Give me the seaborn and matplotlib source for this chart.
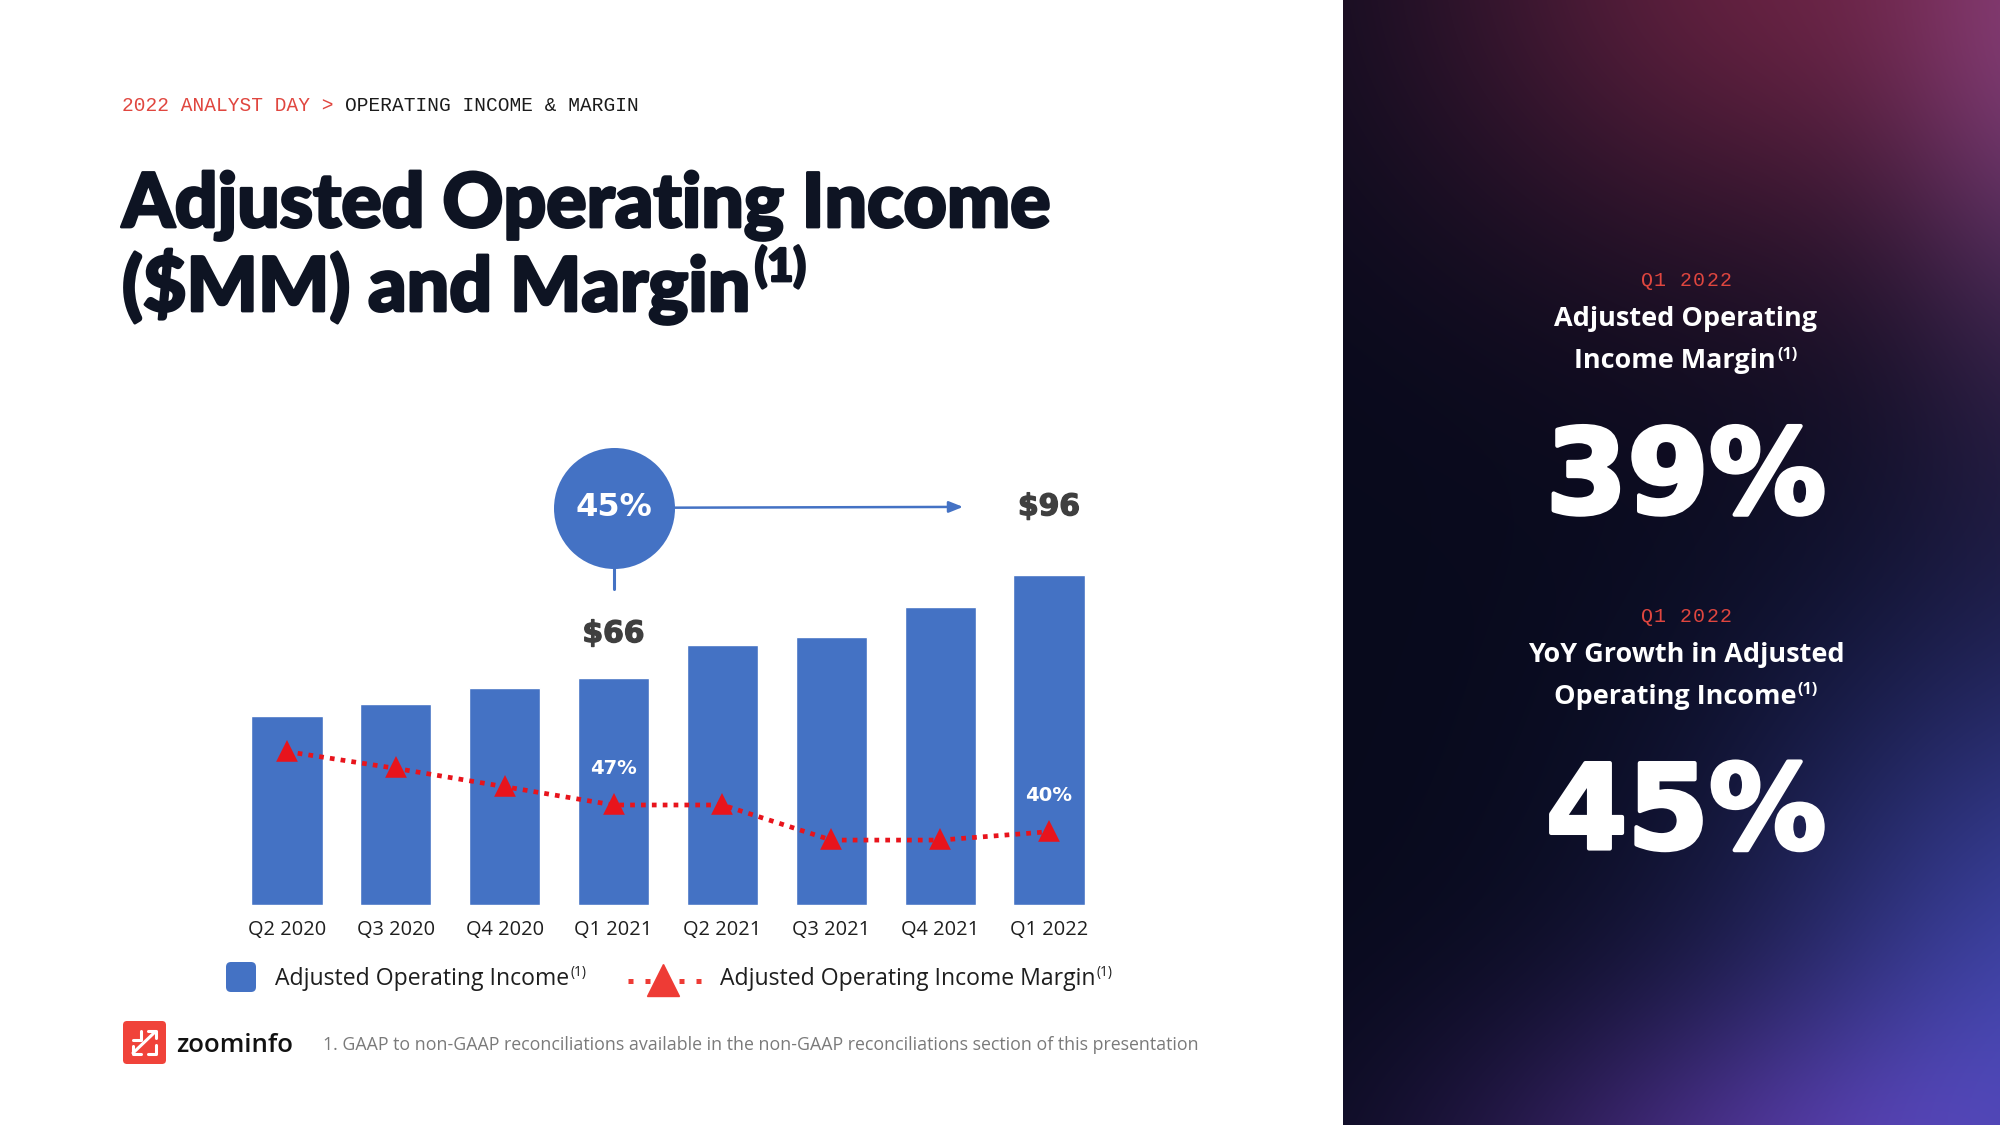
import numpy as np
import pandas as pd
import matplotlib
matplotlib.use("Agg")
import matplotlib.pyplot as plt
import matplotlib.patheffects as pe
import seaborn as sns
from matplotlib.patches import FancyBboxPatch
from matplotlib.lines import Line2D

# ---------------- data ----------------
quarters = ["Q2 2020", "Q3 2020", "Q4 2020", "Q1 2021",
            "Q2 2021", "Q3 2021", "Q4 2021", "Q1 2022"]
income_mm = [55.0, 58.5, 63.0, 66.0, 75.5, 78.0, 86.5, 96.0]
margin_pct = [61.0, 56.6, 51.8, 47.0, 47.0, 37.8, 37.8, 40.0]
income_labels = {"Q1 2021": "$66", "Q1 2022": "$96"}
margin_labels = {"Q1 2021": "47%", "Q1 2022": "40%"}
growth_callout = "45%"
kpi_margin = "39%"
kpi_growth = "45%"

W, H = 2000, 1125
BLUE = "#4472C4"
RED = "#E8141C"
NAVY = "#0E1423"

sns.set_theme(style="white")
plt.rcParams['font.family'] = ['Open Sans', 'DejaVu Sans']

fig = plt.figure(figsize=(20, 11.25), dpi=100)
fig.patch.set_facecolor("white")
renderer = fig.canvas.get_renderer()


def px_axes(l, t, w, h):
    return fig.add_axes([l / W, 1 - (t + h) / H, w / W, h / H])


# ---------------- right gradient panel ----------------
PX = 1343
bg = px_axes(PX, 0, W - PX, H)
yy, xx = np.mgrid[0:H, PX:W].astype(float)
img = np.zeros((H, W - PX, 3)) + np.array([8, 10, 28]) / 255.0


def blob(cx, cy, sx, sy, col):
    g = np.exp(-(((xx - cx) / sx) ** 2 + ((yy - cy) / sy) ** 2) / 2)
    return g[..., None] * np.array(col)[None, None, :]


img += blob(1800, -40, 260, 210, (0.36, 0.09, 0.14))
img += blob(2070, 60, 120, 260, (0.25, 0.14, 0.26))
img += blob(2090, 1000, 240, 270, (0.20, 0.22, 0.52))
img += blob(1770, 1190, 230, 130, (0.22, 0.10, 0.32))
img = np.clip(img, 0, 1)
bg.imshow(img, aspect="auto", interpolation="bilinear")
bg.axis("off")

# ---------------- main chart ----------------
ax = px_axes(232.5, 440, 871, 465)
df = pd.DataFrame({"quarter": quarters, "income": income_mm, "margin": margin_pct})
sns.barplot(data=df, x="quarter", y="income", ax=ax, color=BLUE,
            saturation=1, width=0.655, zorder=2)
ax.set_xlim(-0.5, 7.5)
ax.set_ylim(0, 135.2)
ax.set_yticks([])
ax.set_xlabel("")
ax.set_ylabel("")
for sp in ax.spines.values():
    sp.set_visible(False)
ax.patch.set_alpha(0)

ax2 = ax.twinx()
sns.pointplot(data=df, x="quarter", y="margin", ax=ax2, color=RED,
              markers="^", linestyles=":", errorbar=None,
              markersize=12, linewidth=3.4)
for ln in ax2.lines:
    ln.set_linestyle((0, (1, 1.3)))
    ln.set_dash_capstyle("butt")
ax2.set_ylim(20.78, 142.7)
ax2.set_xlim(-0.5, 7.5)
ax2.set_yticks([])
ax2.set_ylabel("")
ax2.set_xlabel("")
for sp in ax2.spines.values():
    sp.set_visible(False)


def size_for(s, width, **kw):
    t = fig.text(0, 0, s, fontsize=20, **kw)
    w = t.get_window_extent(renderer).width
    t.remove()
    return 20 * width / w


tick_size = size_for("Q2 2020", 78, family=["Open Sans", "DejaVu Sans"])
ax.set_xticks(range(len(quarters)))
ax.set_xticklabels(quarters)
ax.tick_params(axis="x", length=0, pad=10.5, labelsize=tick_size,
               labelcolor="#1e1e1e", bottom=True)
ax2.tick_params(axis="both", length=0, labelbottom=False, labelright=False)

# value labels
dollar_kw = dict(family=["DejaVu Sans"], fontweight="bold", ha="center", va="center")
lab_size = size_for("$66", 62, family=["DejaVu Sans"], fontweight="bold")
offsets = {"Q1 2021": 12.9, "Q1 2022": 19.8}
for q, lab in income_labels.items():
    i = quarters.index(q)
    ax.text(i, income_mm[i] + offsets[q], lab, color="#3f3f3f",
            fontsize=lab_size, clip_on=False,
            path_effects=[pe.withStroke(linewidth=1.0, foreground="#3f3f3f")],
            **dollar_kw)

m_size = size_for("47%", 47, family=["DejaVu Sans"], fontweight="bold")
for q, lab in margin_labels.items():
    i = quarters.index(q)
    ax2.text(i, margin_pct[i] + 9.6, lab, color="white", fontsize=m_size,
             zorder=5, **dollar_kw)

# growth callout: circle, arrow, stub
qi = quarters.index("Q1 2021")
qj = quarters.index("Q1 2022")
cy = 115.5
ax.annotate("", xy=(qj - 0.79, cy + 0.25), xytext=(qi + 0.3, cy),
            arrowprops=dict(arrowstyle="-|>,head_length=0.7,head_width=0.28",
                            color=BLUE, lw=1.8, shrinkA=0, shrinkB=0),
            annotation_clip=False, zorder=3)
ax.plot([qi, qi], [91.9, 98.5], color=BLUE, lw=2.2, clip_on=False, zorder=3)
ax.scatter([qi], [cy], s=(121 * 0.72) ** 2, color=BLUE, zorder=4,
           clip_on=False, linewidths=0)
c_size = size_for(growth_callout, 77, family=["DejaVu Sans"], fontweight="bold")
ax.text(qi, cy, growth_callout, color="white", fontsize=c_size, zorder=6,
        clip_on=False, **dollar_kw)

# ---------------- overlay for slide decorations ----------------
ov = fig.add_axes([0, 0, 1, 1])
ov.set_xlim(0, W)
ov.set_ylim(H, 0)
ov.axis("off")
ov.patch.set_alpha(0)


def width_of(t):
    return t.get_window_extent(renderer).width


def with_sup(x, base, main, sup, size, sup_size, rise, color, align="left",
             gap=1.5, sup_color=None, **kw):
    t = ov.text(0, base, main, fontsize=size, ha="left", va="baseline",
                color=color, **kw)
    s = ov.text(0, base - rise, sup, fontsize=sup_size, ha="left",
                va="baseline", color=sup_color or color, **kw)
    wm, ws = width_of(t), width_of(s)
    x0 = x if align == "left" else x - (wm + gap + ws) / 2
    t.set_x(x0)
    s.set_x(x0 + wm + gap)
    return t, s


# header breadcrumb
mono = ["Liberation Mono", "DejaVu Sans Mono"]
hs = size_for("2022 ANALYST DAY > OPERATING INCOME & MARGIN", 514, family=mono)
h1 = ov.text(122, 111, "2022 ANALYST DAY >", family=mono, fontsize=hs,
             color="#E0463F", va="baseline")
ov.text(122 + width_of(h1) + width_of(h1) / 18, 111, "OPERATING INCOME & MARGIN",
        family=mono, fontsize=hs, color="#1b1b1b", va="baseline")

# title
title_font = ["Lato", "Roboto", "DejaVu Sans"]
heavy = [pe.withStroke(linewidth=2.0, foreground=NAVY)]
ts = size_for("Adjusted Operating Income", 930, family=title_font, fontweight="black")
ov.text(122, 227, "Adjusted Operating Income", family=title_font,
        fontweight="black", fontsize=ts, color=NAVY, va="baseline",
        path_effects=heavy)
with_sup(122, 311, "($MM) and Margin", "(1)", ts, ts * 0.6, 30, NAVY,
         gap=4, family=title_font, fontweight="black", path_effects=heavy)

# legend
lg_size = size_for("Adjusted Operating Income", 293, family=["Open Sans", "DejaVu Sans"])
ov.add_patch(FancyBboxPatch((226, 962), 30, 30,
                            boxstyle="round,pad=0,rounding_size=5",
                            fc=BLUE, ec="none"))
with_sup(275, 985, "Adjusted Operating Income", "(1)", lg_size, lg_size * 0.6,
         9, "#1e1e1e")
ov.add_line(Line2D([628, 702], [980.5, 980.5], color="#EE3B35", lw=3.6,
                   linestyle=(0, (1, 2.4)), dash_capstyle="butt"))
ov.plot([662.5], [980], marker="^", markersize=23, color="#EE3B35",
        linestyle="none")
with_sup(719.5, 985, "Adjusted Operating Income Margin", "(1)", lg_size,
         lg_size * 0.6, 9, "#1e1e1e")

# footer logo + footnote
ov.add_patch(FancyBboxPatch((123, 1021), 43, 43,
                            boxstyle="round,pad=0,rounding_size=4",
                            fc="#F0433A", ec="none"))
ov.add_line(Line2D([133, 141, 141], [1040, 1040, 1031], color="white", lw=2.2))
ov.add_line(Line2D([148, 156, 156], [1031, 1031, 1038], color="white", lw=2.2))
ov.add_line(Line2D([155, 133], [1032, 1053], color="white", lw=2.2))
ov.add_line(Line2D([133, 133, 141], [1046, 1054, 1054], color="white", lw=2.2))
ov.add_line(Line2D([148, 156, 156], [1054, 1054, 1045], color="white", lw=2.2))
zs = size_for("zoominfo", 117, family=["Open Sans", "DejaVu Sans"], fontweight="semibold")
ov.text(176, 1052, "zoominfo", fontsize=zs, fontweight="semibold",
        color="#121212", va="baseline")
fn = ("1. GAAP to non-GAAP reconciliations available in the non-GAAP "
      "reconciliations section of this presentation")
fs = size_for(fn, 870, family=["Open Sans", "DejaVu Sans"])
ov.text(323, 1050, fn, fontsize=fs, color="#7a7a7a", va="baseline")

# ---------------- right panel KPI text ----------------
XC = 1686


def spaced(xc, base, s, pitch, **kw):
    n = len(s)
    for k, ch in enumerate(s):
        ov.text(xc + (k - (n - 1) / 2) * pitch, base, ch, ha="center",
                va="baseline", **kw)


hdr_size = hs * 1.02
bold_font = ["Open Sans", "DejaVu Sans"]
ps = size_for("Adjusted Operating", 262, family=bold_font, fontweight="bold")
big = size_for(kpi_margin, 280, family=["DejaVu Sans"], fontweight="bold")
big_fx = [pe.withStroke(linewidth=3.0, foreground="white")]

for dy, l1, l2, val in [(0, "Adjusted Operating", "Income Margin", kpi_margin),
                        (335.5, "YoY Growth in Adjusted", "Operating Income", kpi_growth)]:
    spaced(XC, 286 + dy, "Q1 2022", 13.1, family=mono, fontsize=hdr_size,
           color="#E0463F")
    ov.text(XC, 326 + dy, l1, ha="center", va="baseline", fontsize=ps,
            fontweight="bold", color="white")
    with_sup(XC, 368 + dy, l2, "(1)", ps, ps * 0.6, 9, "white", align="center",
             fontweight="bold")
    ov.text(XC, 513 + dy, val, ha="center", va="baseline", fontsize=big,
            family=["DejaVu Sans"], fontweight="bold", color="white",
            path_effects=big_fx)

fig.savefig("out.png", dpi=100)
